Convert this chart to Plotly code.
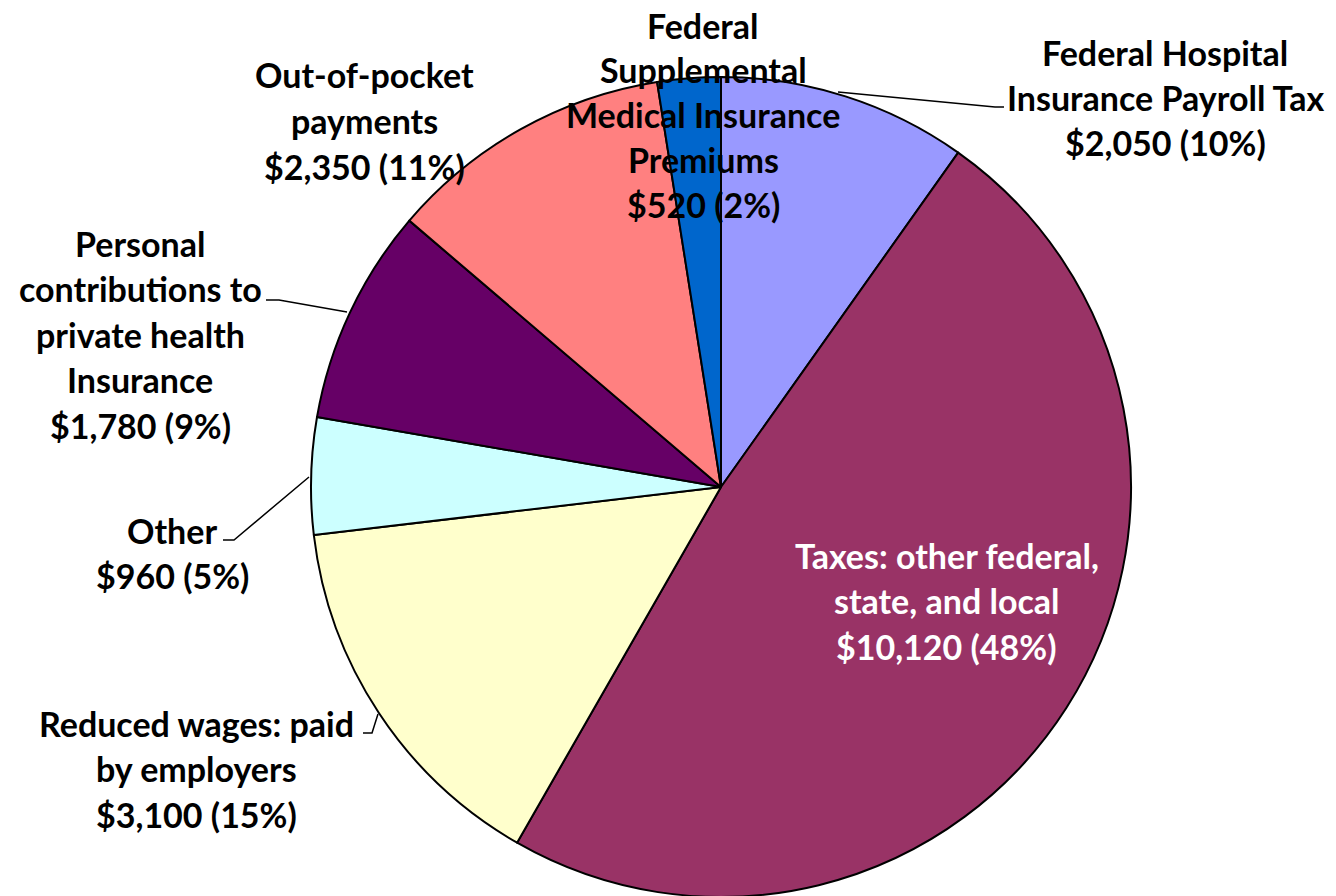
import plotly.graph_objects as go

# -----------------------------
# Data
# -----------------------------

labels = [
    "Federal Hospital Insurance Payroll Tax",
    "Taxes: other federal, state, and local",
    "Reduced wages: paid by employers",
    "Other",
    "Personal contributions to private health Insurance",
    "Out-of-pocket payments",
    "Federal Supplemental Medical Insurance Premiums",
]
amounts = [2050, 10120, 3100, 960, 1780, 2350, 520]
percents = [10, 48, 15, 5, 9, 11, 2]
colors = ["#9999FF", "#993366", "#FFFFCC", "#CCFFFF", "#660066", "#FF8080", "#0066CC"]

# how each label is broken over lines (last line is the amount)
label_lines = [
    ["Federal Hospital", "Insurance Payroll Tax"],
    ["Taxes: other federal,", "state, and local"],
    ["Reduced wages: paid", "by employers"],
    ["Other"],
    ["Personal", "contributions to", "private health", "Insurance"],
    ["Out-of-pocket", "payments"],
    ["Federal", "Supplemental", "Medical Insurance", "Premiums"],
]

W, H = 1336, 896
OFF = 8  # page body margin


def px(x, y):
    return (x - OFF) / W, 1 - (y - OFF) / H


# label placement: centre x, y of first line (screen pixels)
label_pos = [(1165, 52), (947, 555), (196, 723), (172, 530), (140, 243), (364, 75), (703, 25)]
label_color = ["black", "white", "black", "black", "black", "black", "black"]
LINE = 45.5

x0, y0 = px(311, 897)
x1, y1 = px(1131, 77)

fig = go.Figure(
    go.Pie(
        labels=labels,
        values=amounts,
        sort=False,
        direction="clockwise",
        rotation=0,
        marker=dict(colors=colors, line=dict(color="black", width=2)),
        textinfo="none",
        hoverinfo="label+value+percent",
        domain=dict(x=[x0, x1], y=[y0, y1]),
        showlegend=False,
    )
)

# labels, one annotation per line
for lines, amt, pct, (cx, cy), col in zip(label_lines, amounts, percents, label_pos, label_color):
    all_lines = lines + [f"${amt:,} ({pct}%)"]
    step = LINE if cy > 30 else LINE - 0.7
    for i, t in enumerate(all_lines):
        x, y = px(cx, cy + i * step)
        fig.add_annotation(
            x=x, y=y, xref="paper", yref="paper",
            text=f"<b>{t}</b>", showarrow=False,
            xanchor="center", yanchor="middle",
            font=dict(family="Lato", size=34, color=col),
        )

# leader lines
leaders = [
    [(838, 92), (995, 107), (1004, 107)],
    [(266, 300), (279, 300), (347, 312)],
    [(223, 540), (234, 540), (309, 477)],
    [(363, 733), (372, 733), (378, 714)],
]
for pts in leaders:
    p = [px(*q) for q in pts]
    path = "M " + " L ".join(f"{a},{b}" for a, b in p)
    fig.add_shape(type="path", path=path, xref="paper", yref="paper",
                  line=dict(color="black", width=1.5))

fig.update_layout(
    width=W, height=H,
    margin=dict(l=0, r=0, t=0, b=0),
    paper_bgcolor="white",
    plot_bgcolor="white",
)

fig.write_html("out.html")
